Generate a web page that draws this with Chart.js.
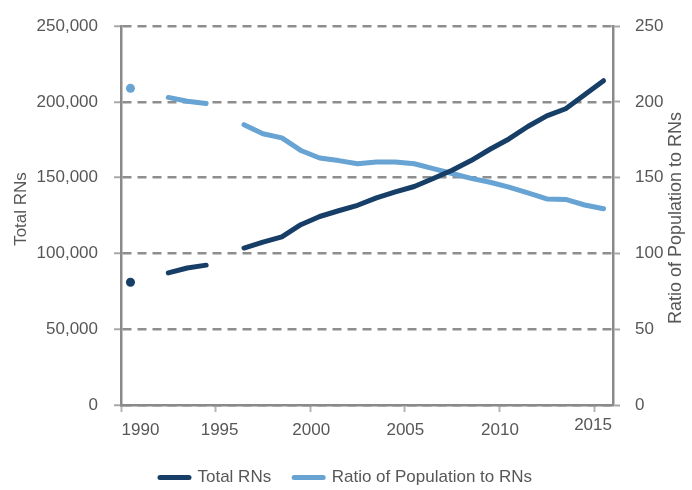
<!DOCTYPE html>
<html>
<head>
<meta charset="utf-8">
<script src="https://cdn.jsdelivr.net/npm/chart.js@4/dist/chart.umd.min.js"></script>
<style>
  html, body { margin: 0; padding: 0; background: #ffffff; }
  #wrap { width: 692px; height: 490px; position: relative; }
</style>
</head>
<body>
<div id="wrap"><canvas id="c" width="692" height="490"></canvas></div>
<script>
// ---- data ----
const years = [1990, 1991, 1992, 1993, 1994, 1995, 1996, 1997, 1998, 1999, 2000, 2001, 2002,
               2003, 2004, 2005, 2006, 2007, 2008, 2009, 2010, 2011, 2012, 2013, 2014, 2015];
const totalRNs = [81000, null, 87200, 90400, 92300, null, 103600, 107500, 111000, 119000, 124400,
                  128200, 131800, 136700, 140600, 144200, 149500, 154900, 161300, 168800, 175600,
                  183800, 190800, 195500, 204700, 214000];
const ratioPopToRN = [209, null, 203, 200.5, 199, null, 185, 179, 176.3, 168, 163, 161.3, 159.2,
                      160.3, 160.3, 159.2, 156, 152.8, 149.6, 147, 143.8, 140, 136, 135.7, 132, 129.5];
const xTickLabels = [1990, 1995, 2000, 2005, 2010, 2015];
const leftTicks = [0, 50000, 100000, 150000, 200000, 250000];
const rightTicks = [0, 50, 100, 150, 200, 250];
const seriesNames = ['Total RNs', 'Ratio of Population to RNs'];
const axisTitles = ['Total RNs', 'Ratio of Population to RNs'];

// ---- styles ----
const DARK = '#173e67';
const LIGHT = '#67a3d3';
const AXIS = '#8a8a8a';
const GRID = '#8e8e8e';
const TEXT = '#575757';
const FONT = "'Liberation Sans', Arial, sans-serif";
const COLORS = [DARK, LIGHT];

// points are plotted at mid-year
const toPoints = (vals) => years.map((y, i) => ({ x: y + 0.5, y: vals[i] }));
// isolated points get a dot
const isolated = (vals) => vals.map((v, i) =>
  v !== null && (i === 0 || vals[i - 1] === null) && (i === vals.length - 1 || vals[i + 1] === null));

Chart.defaults.font.family = FONT;
Chart.defaults.font.size = 17;
Chart.defaults.color = TEXT;

const isoTotal = isolated(totalRNs);
const isoRatio = isolated(ratioPopToRN);

const labelOffsets = { 1990: [19.5, 0], 1995: [4, 0], 2000: [1, 0], 2005: [0.5, 0], 2010: [0.5, 0], 2015: [-1, -5] };

const customText = {
  id: 'customText',
  afterDraw(chart) {
    const ctx = chart.ctx;
    const xs = chart.scales.x;
    ctx.save();
    ctx.fillStyle = TEXT;
    ctx.font = "17px " + FONT;
    ctx.textAlign = 'center';
    ctx.textBaseline = 'middle';
    xTickLabels.forEach(v => {
      const off = labelOffsets[v] || [0, 0];
      ctx.fillText(String(v), xs.getPixelForValue(v) + off[0], 430 + off[1]);
    });
    // left title
    ctx.save();
    ctx.translate(21, 209);
    ctx.rotate(-Math.PI / 2);
    ctx.fillText(axisTitles[0], 0, 0);
    ctx.restore();
    // right title (reads bottom to top)
    ctx.save();
    ctx.font = "18px " + FONT;
    ctx.translate(676, 218);
    ctx.rotate(-Math.PI / 2);
    ctx.fillText(axisTitles[1], 0, 0);
    ctx.restore();
    ctx.restore();
  }
};

new Chart(document.getElementById('c'), {
  type: 'line',
  data: {
    datasets: [
      {
        label: seriesNames[0],
        data: toPoints(totalRNs),
        yAxisID: 'y',
        borderColor: DARK,
        backgroundColor: DARK,
        borderWidth: 5,
        borderCapStyle: 'round',
        borderJoinStyle: 'round',
        pointRadius: (c) => isoTotal[c.dataIndex] ? 4.5 : 0,
        pointBorderWidth: 0,
        pointBackgroundColor: DARK,
        spanGaps: false,
        tension: 0
      },
      {
        label: seriesNames[1],
        data: toPoints(ratioPopToRN),
        yAxisID: 'y2',
        borderColor: LIGHT,
        backgroundColor: LIGHT,
        borderWidth: 5,
        borderCapStyle: 'round',
        borderJoinStyle: 'round',
        pointRadius: (c) => isoRatio[c.dataIndex] ? 4.5 : 0,
        pointBorderWidth: 0,
        pointBackgroundColor: LIGHT,
        spanGaps: false,
        tension: 0
      }
    ]
  },
  options: {
    responsive: false,
    animation: false,
    events: [],
    layout: { padding: { top: 15, left: 0, right: 0, bottom: 0 } },
    plugins: {
      tooltip: { enabled: false },
      legend: {
        position: 'bottom',
        maxHeight: 44,
        labels: {
          usePointStyle: true,
          pointStyle: 'line',
          pointStyleWidth: 29,
          boxWidth: 29,
          padding: 23,
          color: TEXT,
          font: { size: 17, family: FONT },
          generateLabels: (chart) => chart.data.datasets.map((ds, i) => ({
            text: ds.label,
            datasetIndex: i,
            fillStyle: COLORS[i],
            strokeStyle: COLORS[i],
            lineWidth: 5,
            lineCap: 'round',
            pointStyle: 'line',
            hidden: false,
            fontColor: TEXT
          }))
        }
      }
    },
    scales: {
      x: {
        type: 'linear',
        min: 1990,
        max: 2016,
        afterBuildTicks: (s) => { s.ticks = xTickLabels.map(v => ({ value: v })); },
        afterFit: (s) => { s.height = 41; },
        ticks: { color: 'rgba(0,0,0,0)', padding: 11, autoSkip: false, maxRotation: 0 },
        grid: { drawOnChartArea: false, drawTicks: true, tickLength: 7, tickColor: '#b5b5b5', tickWidth: 2 },
        border: { display: true, color: AXIS, width: 2.5 }
      },
      y: {
        type: 'linear',
        position: 'left',
        min: 0,
        max: 250000,
        afterBuildTicks: (s) => { s.ticks = leftTicks.map(v => ({ value: v })); },
        afterFit: (s) => { s.width = 121; },
        ticks: {
          padding: 16,
          color: TEXT,
          callback: (v) => v.toLocaleString('en-US')
        },
        grid: {
          color: GRID,
          lineWidth: 2.5,
          tickLength: 7,
          tickColor: '#a8a8a8',
          tickWidth: 2,
          tickBorderDash: [],
          drawTicks: true
        },
        border: { display: true, color: AXIS, width: 2.5, dash: [9, 6] }
      },
      y2: {
        type: 'linear',
        position: 'right',
        min: 0,
        max: 250,
        afterBuildTicks: (s) => { s.ticks = rightTicks.map(v => ({ value: v })); },
        afterFit: (s) => { s.width = 79; },
        ticks: { padding: 15, color: TEXT },
        grid: { drawOnChartArea: false, drawTicks: true, tickLength: 7, tickColor: '#a8a8a8', tickWidth: 2 },
        border: { display: true, color: AXIS, width: 2.5 }
      }
    }
  },
  plugins: [customText]
});
</script>
</body>
</html>
